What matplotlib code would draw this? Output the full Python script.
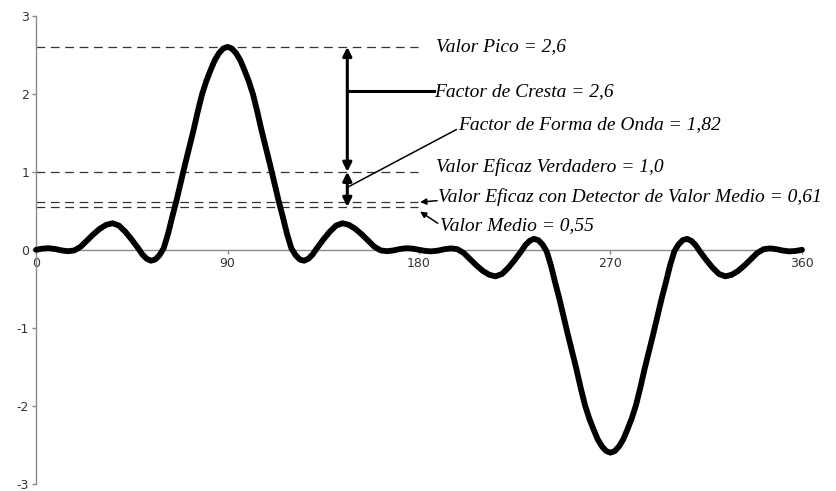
import matplotlib.pyplot as plt

plt.rcParams['axes.unicode_minus'] = False

# waveform samples (degrees, amplitude)
deg = [0, 3, 6, 9, 12, 15, 18, 21, 24, 27, 30, 33, 36, 39, 42, 45, 48, 50,
       52, 54, 56, 58, 60, 62, 64, 66, 68, 70, 72, 74, 76, 78, 80, 82, 84,
       86, 88, 90, 92, 94, 96, 98, 100, 102, 104, 106, 108, 110, 112, 114,
       116, 118, 120, 122, 124, 126, 128, 130, 132, 135, 138, 141, 144, 147,
       150, 153, 156, 159, 162, 165, 168, 171, 174, 177, 180,
       183, 186, 189, 192, 195, 198, 201, 204, 207, 210, 213, 216, 219, 222,
       225, 228, 230, 232, 234, 236, 238, 240, 242, 244, 246, 248, 250, 252,
       254, 256, 258, 260, 262, 264, 266, 268, 270, 272, 274, 276, 278, 280,
       282, 284, 286, 288, 290, 292, 294, 296, 298, 300, 302, 304, 306, 308,
       310, 312, 315, 318, 321, 324, 327, 330, 333, 336, 339, 342, 345, 348,
       351, 354, 357, 360]
amp = [0.00, 0.015, 0.02, 0.01, -0.008, -0.018, -0.008, 0.04, 0.12, 0.20,
       0.27, 0.32, 0.34, 0.31, 0.23, 0.13, 0.02, -0.06, -0.115, -0.14,
       -0.125, -0.07, 0.02, 0.20, 0.42, 0.63, 0.86, 1.09, 1.31, 1.53, 1.77,
       1.99, 2.16, 2.30, 2.43, 2.52, 2.58, 2.60, 2.58, 2.52, 2.43, 2.30, 2.16,
       1.99, 1.77, 1.53, 1.31, 1.09, 0.86, 0.63, 0.42, 0.20, 0.02, -0.07,
       -0.125, -0.14, -0.115, -0.06, 0.02, 0.13, 0.23, 0.31, 0.34, 0.32,
       0.27, 0.20, 0.12, 0.04, -0.008, -0.018, -0.008, 0.01, 0.02, 0.015,
       0.00,
       -0.015, -0.02, -0.01, 0.008, 0.018, 0.008, -0.04, -0.12, -0.20, -0.27,
       -0.32, -0.34, -0.31, -0.23, -0.13, -0.02, 0.06, 0.115, 0.14, 0.125,
       0.07, -0.02, -0.20, -0.42, -0.63, -0.86, -1.09, -1.31, -1.53, -1.77,
       -1.99, -2.16, -2.30, -2.43, -2.52, -2.58, -2.60, -2.58, -2.52, -2.43,
       -2.30, -2.16, -1.99, -1.77, -1.53, -1.31, -1.09, -0.86, -0.63, -0.42,
       -0.20, -0.02, 0.07, 0.125, 0.14, 0.115, 0.06, -0.02, -0.13, -0.23,
       -0.31, -0.34, -0.32, -0.27, -0.20, -0.12, -0.04, 0.008, 0.018, 0.008,
       -0.01, -0.02, -0.015, 0.00]

peak = 2.6
rms_true = 1.0
rms_avg = 0.61
mean_val = 0.55
crest = 2.6
form = 1.82

xticks = [0, 90, 180, 270, 360]
yticks = [-3, -2, -1, 0, 1, 2, 3]

fig = plt.figure(figsize=(8.36, 4.91), dpi=100)
ax = fig.add_axes([0.0431, 0.0145, 0.9162, 0.9535])

ax.plot(deg, amp, color='black', lw=4.2, solid_capstyle='round',
        solid_joinstyle='round', clip_on=False, zorder=3)

# reference levels
for lvl in [peak, rms_true, rms_avg, mean_val]:
    ax.plot([0, 179.5], [lvl, lvl], color='#333333', lw=0.9,
            dashes=(7, 4.5), zorder=2)

ax.set_xlim(0, 360)
ax.set_ylim(-3, 3)
ax.set_xticks(xticks)
ax.set_yticks(yticks)
ax.spines['top'].set_visible(False)
ax.spines['right'].set_visible(False)
ax.spines['bottom'].set_position(('data', 0))
for s in ['left', 'bottom']:
    ax.spines[s].set_color('#8a8a8a')
    ax.spines[s].set_linewidth(1.0)
ax.tick_params(colors='#8a8a8a', length=3, width=1, labelcolor='#333333',
               labelsize=9)
ax.tick_params(axis='y', pad=2)
ax.tick_params(axis='x', pad=2)

xa = 146.3
arr = dict(arrowstyle='<|-|>', color='black', lw=2.2, mutation_scale=13,
           shrinkA=0, shrinkB=0)
ax.annotate('', xy=(xa, peak), xytext=(xa, rms_true), arrowprops=arr)
ax.annotate('', xy=(xa, rms_true), xytext=(xa, mean_val), arrowprops=arr)

ax.plot([xa, 187], [2.03, 2.03], color='black', lw=2.2)
ax.plot([xa, 197.5], [0.80, 1.54], color='black', lw=1.1)

small = dict(arrowstyle='-|>', color='black', lw=1.1, mutation_scale=9,
             shrinkA=0, shrinkB=0)
ax.annotate('', xy=(180.5, rms_avg), xytext=(188.5, 0.63), arrowprops=small)
ax.annotate('', xy=(180.5, 0.49), xytext=(188.8, 0.34), arrowprops=small)

tfont = dict(family='Liberation Serif', style='italic', fontsize=14,
             va='center', ha='left', color='black')
ax.text(188.0, 2.6, 'Valor Pico = 2,6', **tfont)
ax.text(187.2, 2.03, 'Factor de Cresta = 2,6', **tfont)
ax.text(198.3, 1.61, 'Factor de Forma de Onda = 1,82', **tfont)
ax.text(188.0, 1.06, 'Valor Eficaz Verdadero = 1,0', **tfont)
ax.text(189.0, 0.67, 'Valor Eficaz con Detector de Valor Medio = 0,61', **tfont)
ax.text(189.8, 0.31, 'Valor Medio = 0,55', **tfont)

fig.savefig('out.png', dpi=100)
